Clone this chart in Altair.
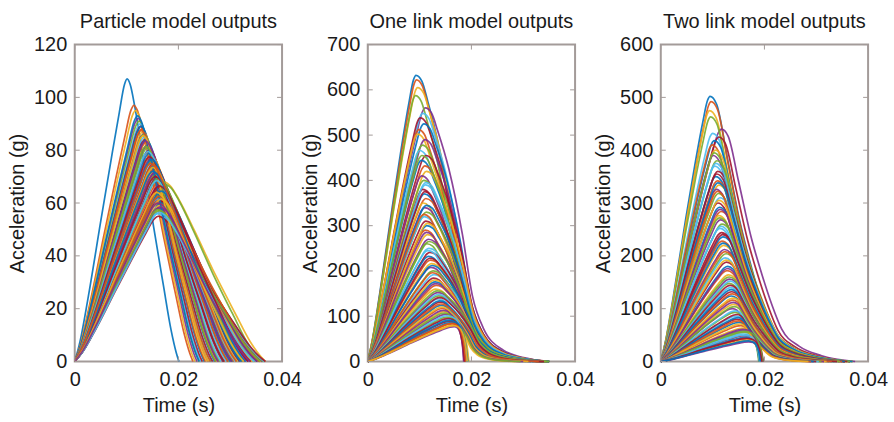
import altair as alt
import pandas as pd

# ---------------- data ----------------
MATLAB_COLORS = ["#0072BD", "#D95319", "#EDB120", "#7E2F8E", "#77AC30", "#4DBEEE", "#A2142F"]

TITLES = ["Particle model outputs", "One link model outputs", "Two link model outputs"]
Y_MAX = [120, 700, 600]
Y_STEP = [20, 100, 100]
X_TICKS = [0, 0.02, 0.04]

# Panel 1: particle model (peak time s, peak value g, end time s)
P1_PEAK_T = [0.0101, 0.0114, 0.0117, 0.0122, 0.0124, 0.0126, 0.0127, 0.0128, 0.0129, 0.0131,
             0.0132, 0.0133, 0.0134, 0.0135, 0.0137, 0.0137, 0.0139, 0.0140, 0.0140, 0.0142,
             0.0143, 0.0144, 0.0145, 0.0147, 0.0147, 0.0149, 0.0150, 0.0152, 0.0152, 0.0154,
             0.0155, 0.0157, 0.0157, 0.0159, 0.0160, 0.0160, 0.0162, 0.0172, 0.0164, 0.0175,
             0.0167, 0.0165, 0.0168, 0.0164, 0.0166, 0.0168, 0.0163, 0.0165, 0.0162, 0.0166,
             0.0161, 0.0163, 0.0160, 0.0162, 0.0159, 0.0161,
             0.0121, 0.0128, 0.0132, 0.0136, 0.0137, 0.0141, 0.0144, 0.0148, 0.0151, 0.0151,
             0.0154, 0.0161, 0.0158, 0.0163, 0.0167, 0.0162, 0.0166, 0.0164, 0.0160, 0.0163,
             0.0155, 0.0150, 0.0146, 0.0158, 0.0160]
P1_PEAK_V = [107, 97, 95, 92, 91, 90, 89, 89, 88, 87,
             86, 86, 85, 84, 84, 83, 82, 82, 81, 80,
             80, 79, 78, 78, 77, 76, 75, 75, 74, 73,
             72, 72, 71, 70, 70, 69, 68, 68, 67, 67,
             66, 66, 65, 65, 64, 63, 63, 62, 61, 60,
             60, 59, 58, 57, 56, 55,
             93, 87.5, 85.5, 83.5, 81.5, 79.5, 77.5, 76.5, 74.5, 73.5,
             71.5, 69.5, 68.5, 66.5, 64.5, 62.5, 61.5, 58.5, 57.5, 56.5,
             70, 72, 75, 64, 60]
P1_END_T = [0.0201, 0.0228, 0.0232, 0.0236, 0.0240, 0.0243, 0.0246, 0.0250, 0.0252, 0.0255,
            0.0258, 0.0262, 0.0264, 0.0266, 0.0270, 0.0272, 0.0275, 0.0278, 0.0280, 0.0282,
            0.0286, 0.0288, 0.0290, 0.0293, 0.0295, 0.0297, 0.0300, 0.0303, 0.0305, 0.0307,
            0.0310, 0.0312, 0.0314, 0.0316, 0.0318, 0.0320, 0.0323, 0.0368, 0.0328, 0.0360,
            0.0333, 0.0335, 0.0338, 0.0340, 0.0342, 0.0345, 0.0347, 0.0350, 0.0352, 0.0355,
            0.0357, 0.0360, 0.0362, 0.0364, 0.0366, 0.0368,
            0.0240, 0.0262, 0.0258, 0.0276, 0.0272, 0.0292, 0.0288, 0.0300, 0.0296, 0.0314,
            0.0302, 0.0325, 0.0310, 0.0340, 0.0330, 0.0355, 0.0344, 0.0352, 0.0358, 0.0346,
            0.0334, 0.0322, 0.0312, 0.0326, 0.0338]
P1_KIND = [0] * 81

# Panel 2: one link model
P2_PEAK_T = [0.0093, 0.0094, 0.0096, 0.0111, 0.0092, 0.0106, 0.0101, 0.0108, 0.0098, 0.0096,
             0.0110, 0.0105, 0.0100, 0.0112, 0.0103, 0.0110, 0.0113, 0.0104, 0.0108, 0.0111,
             0.0106, 0.0109, 0.0112, 0.0107, 0.0110, 0.0113, 0.0109, 0.0112, 0.0114, 0.0111,
             0.0115, 0.0117, 0.0114, 0.0118, 0.0120, 0.0117, 0.0121, 0.0123, 0.0122, 0.0126,
             0.0128, 0.0127, 0.0130, 0.0132, 0.0131, 0.0135, 0.0137, 0.0136, 0.0140, 0.0142,
             0.0144, 0.0147, 0.0150, 0.0153, 0.0156, 0.0158, 0.0161, 0.0163, 0.0165, 0.0167,
             0.0104, 0.0112, 0.0110, 0.0113, 0.0108, 0.0115, 0.0113, 0.0118, 0.0116, 0.0120,
             0.0124, 0.0125, 0.0129, 0.0131, 0.0134, 0.0136, 0.0138, 0.0139, 0.0141, 0.0143,
             0.0146, 0.0148, 0.0152, 0.0155, 0.0157, 0.0162, 0.0166]
P2_PEAK_V = [632, 622, 605, 560, 587, 548, 538, 525, 512, 502,
             490, 478, 466, 455, 444, 432, 420, 410, 400, 390,
             380, 370, 360, 350, 340, 330, 320, 310, 300, 290,
             280, 270, 260, 250, 241, 232, 224, 216, 208, 200,
             192, 184, 176, 168, 160, 152, 145, 138, 131, 124,
             117, 110, 104, 98, 93, 89, 86, 83, 80, 77,
             455, 395, 375, 345, 325, 305, 285, 265, 245, 228,
             212, 196, 180, 172, 156, 148, 141, 134, 127, 120,
             113, 107, 101, 95, 91, 84, 79]
P2_END_T = [0.0320, 0.0315, 0.0330, 0.0350, 0.0310, 0.0340, 0.0335, 0.0345, 0.0320, 0.0325,
            0.0345, 0.0340, 0.0330, 0.0350, 0.0340, 0.0345, 0.0350, 0.0330, 0.0345, 0.0350,
            0.0335, 0.0345, 0.0350, 0.0330, 0.0345, 0.0350, 0.0335, 0.0345, 0.0350, 0.0335,
            0.0345, 0.0350, 0.0335, 0.0345, 0.0350, 0.0335, 0.0345, 0.0350, 0.0335, 0.0345,
            0.0350, 0.0335, 0.0345, 0.0350, 0.0335, 0.0345, 0.0335, 0.0325, 0.0315, 0.0305,
            0.0295, 0.0285, 0.0192, 0.0189, 0.0194, 0.0186, 0.0190, 0.0188, 0.0195, 0.0185,
            0.0330, 0.0345, 0.0340, 0.0350, 0.0330, 0.0345, 0.0335, 0.0350, 0.0335, 0.0345,
            0.0350, 0.0335, 0.0345, 0.0340, 0.0350, 0.0330, 0.0340, 0.0320, 0.0330, 0.0310,
            0.0300, 0.0295, 0.0191, 0.0187, 0.0193, 0.0189, 0.0192]
P2_KIND = [0] * 52 + [1] * 8 + [0] * 22 + [1] * 5

# Panel 3: two link model
P3_PEAK_T = [0.0095, 0.0097, 0.0094, 0.0117, 0.0096, 0.0100, 0.0112, 0.0103, 0.0099, 0.0105,
             0.0101, 0.0108, 0.0104, 0.0110, 0.0106, 0.0109, 0.0112, 0.0107, 0.0111, 0.0114,
             0.0110, 0.0113, 0.0116, 0.0112, 0.0115, 0.0118, 0.0114, 0.0117, 0.0120, 0.0118,
             0.0121, 0.0123, 0.0126, 0.0124, 0.0127, 0.0129, 0.0128, 0.0131, 0.0133, 0.0132,
             0.0135, 0.0137, 0.0136, 0.0139, 0.0141, 0.0138, 0.0143, 0.0146, 0.0148, 0.0151,
             0.0154, 0.0157, 0.0159, 0.0161, 0.0160, 0.0163, 0.0165, 0.0167, 0.0168, 0.0170,
             0.0103, 0.0106, 0.0108, 0.0110, 0.0109, 0.0112, 0.0114, 0.0113, 0.0116, 0.0119,
             0.0120, 0.0124, 0.0126, 0.0129, 0.0132, 0.0134, 0.0134, 0.0136, 0.0138, 0.0140,
             0.0140, 0.0142, 0.0144, 0.0147, 0.0149, 0.0150, 0.0153,
             0.0158, 0.0160, 0.0162, 0.0166, 0.0169]
P3_PEAK_V = [502, 492, 475, 440, 463, 432, 425, 418, 410, 400,
             390, 380, 370, 360, 350, 342, 334, 326, 318, 310,
             300, 292, 284, 276, 268, 260, 252, 244, 236, 228,
             220, 212, 204, 196, 188, 180, 172, 164, 156, 148,
             140, 132, 124, 116, 108, 100, 93, 86, 80, 74,
             68, 63, 59, 55, 52, 49, 46, 43, 40, 37,
             395, 375, 355, 338, 322, 305, 288, 272, 256, 240,
             224, 208, 192, 176, 160, 152, 144, 136, 128, 120,
             112, 104, 96, 89, 83, 77, 71,
             61, 57, 50, 44, 39]
P3_END_T = [0.0350, 0.0345, 0.0355, 0.0375, 0.0345, 0.0355, 0.0365, 0.0355, 0.0345, 0.0360,
            0.0350, 0.0365, 0.0355, 0.0365, 0.0355, 0.0360, 0.0370, 0.0350, 0.0360, 0.0370,
            0.0355, 0.0365, 0.0370, 0.0355, 0.0365, 0.0370, 0.0355, 0.0365, 0.0370, 0.0355,
            0.0365, 0.0355, 0.0360, 0.0350, 0.0355, 0.0345, 0.0350, 0.0340, 0.0345, 0.0335,
            0.0340, 0.0330, 0.0335, 0.0325, 0.0325, 0.0315, 0.0310, 0.0305, 0.0300, 0.0295,
            0.0290, 0.0192, 0.0196, 0.0189, 0.0194, 0.0198, 0.0190, 0.0195, 0.0191, 0.0197,
            0.0350, 0.0360, 0.0355, 0.0365, 0.0350, 0.0360, 0.0355, 0.0365, 0.0350, 0.0360,
            0.0355, 0.0350, 0.0345, 0.0340, 0.0345, 0.0330, 0.0340, 0.0325, 0.0330, 0.0320,
            0.0315, 0.0310, 0.0305, 0.0300, 0.0295, 0.0290, 0.0285,
            0.0193, 0.0197, 0.0191, 0.0195, 0.0192]
P3_KIND = [0] * 51 + [1] * 9 + [0] * 27 + [1] * 5

# Normalised curve profiles (fraction of rise/fall time -> fraction of peak)
P1_RISE_U = [0, 0.1, 0.25, 0.5, 0.7, 0.85, 0.95, 1]
P1_RISE_F = [0, 0.07, 0.22, 0.5, 0.72, 0.88, 0.98, 1]
P1_FALL_W = [0, 0.06, 0.15, 0.3, 0.5, 0.7, 0.85, 0.95, 1]
P1_FALL_F = [1, 0.98, 0.9, 0.73, 0.49, 0.27, 0.11, 0.03, 0]

LINK_RISE_U = [0, 0.1, 0.25, 0.5, 0.7, 0.85, 0.95, 1]
LINK_RISE_F = [0, 0.08, 0.24, 0.53, 0.75, 0.9, 0.985, 1]
P2_FALL_W = [0, 0.05, 0.1, 0.19, 0.3, 0.38, 0.47, 0.63, 0.85, 1]
P2_FALL_F = [1, 0.98, 0.91, 0.76, 0.5, 0.26, 0.13, 0.045, 0.01, 0]
P3_FALL_W = [0, 0.05, 0.13, 0.22, 0.3, 0.38, 0.45, 0.58, 0.75, 1]
P3_FALL_F = [1, 0.97, 0.77, 0.54, 0.38, 0.24, 0.14, 0.066, 0.025, 0]
CLIFF_W = [0, 0.3, 0.55, 0.75, 0.9, 1]
CLIFF_F = [1, 0.97, 0.88, 0.68, 0.38, 0]


def build(peak_t, peak_v, end_t, kind, rise_u, rise_f, fall_w, fall_f):
    rows = []
    for i, (tp, vp, te, kd) in enumerate(zip(peak_t, peak_v, end_t, kind)):
        col = MATLAB_COLORS[i % len(MATLAB_COLORS)]
        pts = [(u * tp, f * vp) for u, f in zip(rise_u, rise_f)]
        W, F = (CLIFF_W, CLIFF_F) if kd else (fall_w, fall_f)
        pts += [(tp + w * (te - tp), f * vp) for w, f in zip(W[1:], F[1:])]
        for k, (t, a) in enumerate(pts):
            rows.append({"curve": i, "k": k, "t": t, "a": a, "col": col})
    return pd.DataFrame(rows)


DFS = [
    build(P1_PEAK_T, P1_PEAK_V, P1_END_T, P1_KIND, P1_RISE_U, P1_RISE_F, P1_FALL_W, P1_FALL_F),
    build(P2_PEAK_T, P2_PEAK_V, P2_END_T, P2_KIND, LINK_RISE_U, LINK_RISE_F, P2_FALL_W, P2_FALL_F),
    build(P3_PEAK_T, P3_PEAK_V, P3_END_T, P3_KIND, LINK_RISE_U, LINK_RISE_F, P3_FALL_W, P3_FALL_F),
]

PW, PH = 208, 318
TICK_LEN = 5
FRAME = "#a39b99"


def panel(df, ymax, ystep, title):
    yticks = list(range(0, ymax + 1, ystep))
    xs = alt.Scale(domain=[0, 0.04], nice=False, zero=False)
    ys = alt.Scale(domain=[0, ymax], nice=False)
    xax = alt.Axis(values=X_TICKS, format="~g", title="Time (s)", labelFlush=False,
                   labelPadding=8, titlePadding=6)
    yax = alt.Axis(values=yticks, title="Acceleration (g)", labelFlush=False)
    X = lambda: alt.X("t:Q", scale=xs, axis=xax)
    Y = lambda: alt.Y("a:Q", scale=ys, axis=yax)
    lines = alt.Chart(df).mark_line(interpolate="monotone", strokeWidth=1.7, opacity=0.9).encode(
        x=X(), y=Y(),
        detail="curve:N",
        color=alt.Color("col:N", scale=None),
        order="k:Q",
    )
    ydf = pd.DataFrame({"a": yticks})
    xdf = pd.DataFrame({"t": X_TICKS})
    yl = alt.Chart(ydf).mark_rule(color=FRAME, strokeWidth=1).encode(
        y=Y(), x=alt.value(0), x2=alt.value(TICK_LEN))
    yr = alt.Chart(ydf).mark_rule(color=FRAME, strokeWidth=1).encode(
        y=Y(), x=alt.value(PW), x2=alt.value(PW - TICK_LEN))
    xb = alt.Chart(xdf).mark_rule(color=FRAME, strokeWidth=1).encode(
        x=X(), y=alt.value(PH), y2=alt.value(PH - TICK_LEN))
    xt = alt.Chart(xdf).mark_rule(color=FRAME, strokeWidth=1).encode(
        x=X(), y=alt.value(0), y2=alt.value(TICK_LEN))
    return alt.layer(lines, yl, yr, xb, xt).properties(
        width=PW, height=PH,
        title=alt.TitleParams(title, fontSize=20, font="Liberation Sans", fontWeight="normal",
                              color="#1a1a1a", offset=3, anchor="middle"),
    )


chart = alt.hconcat(
    *[panel(DFS[i], Y_MAX[i], Y_STEP[i], TITLES[i]) for i in range(3)],
    spacing=86, bounds="flush",
).properties(
    padding={"left": 6, "top": 10, "right": 5, "bottom": 5},
    background="white",
).configure_view(
    stroke=FRAME, strokeWidth=2,
).configure_axis(
    labelFont="Liberation Sans", titleFont="Liberation Sans",
    labelFontSize=20, titleFontSize=20, titleFontWeight="normal",
    labelColor="#1a1a1a", titleColor="#1a1a1a",
    ticks=False, domain=False, grid=False,
    labelPadding=8, titlePadding=6,
)

chart.save("out.html", embed_options={"renderer": "svg", "actions": False})
